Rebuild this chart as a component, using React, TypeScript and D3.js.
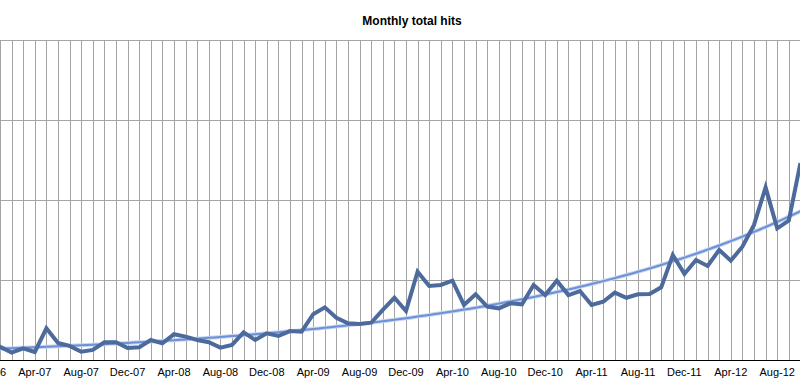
import * as d3 from "d3";
import { useEffect, useRef } from "react";

// months Dec-06 .. Oct-12
const months = d3.timeMonth.range(new Date(2006, 11, 1), new Date(2012, 10, 1));
const fmt = d3.timeFormat("%b-%y");

// total hits per month
const hits = [
  8800, 8300, 4600, 7300, 5000, 19800, 10600, 8800, 5200, 6300, 11100, 11100, 7500,
  7900, 12500, 10400, 16100, 14600, 12500, 11100, 7700, 9400, 17300, 12500, 16700,
  15000, 18100, 17700, 28600, 32900, 26400, 22900, 22500, 23300, 31300, 38900, 30600,
  55200, 46300, 46900, 49600, 34400, 41100, 33300, 32300, 35400, 34800, 46900, 40600,
  49600, 40600, 43100, 34400, 36400, 42100, 38900, 41100, 41300, 45400, 65600, 53800,
  62500, 58800, 68800, 62100, 70800, 84400, 107900, 82300, 87100, 123100,
];

const yTicks = [0, 50000, 100000, 150000, 200000];
const labelEvery = 4;

export default function App() {
  const svgRef = useRef<SVGSVGElement | null>(null);

  useEffect(() => {
    const width = 800;
    const height = 391;
    const svg = d3.select(svgRef.current);
    svg.selectAll("*").remove();

    const x = d3.scaleLinear().domain([0, hits.length - 1]).range([-11.6, 800.4]);
    const y = d3.scaleLinear().domain([0, 200000]).range([360, 40]);

    svg
      .append("text")
      .attr("x", 412)
      .attr("y", 25)
      .attr("text-anchor", "middle")
      .style("font", "bold 12px 'Liberation Sans', Arial, sans-serif")
      .text("Monthly total hits");

    const grid = svg.append("g").attr("stroke", "#a4a4a4").attr("stroke-width", 1);
    grid
      .selectAll("line.v")
      .data(hits.map((_, i) => i))
      .join("line")
      .attr("class", "v")
      .attr("x1", (i) => Math.round(x(i)) + 0.5)
      .attr("x2", (i) => Math.round(x(i)) + 0.5)
      .attr("y1", y(200000))
      .attr("y2", y(0));
    grid
      .selectAll("line.h")
      .data(yTicks.slice(1))
      .join("line")
      .attr("class", "h")
      .attr("x1", 0)
      .attr("x2", width)
      .attr("y1", (d) => Math.round(y(d)) + 0.5)
      .attr("y2", (d) => Math.round(y(d)) + 0.5);

    svg
      .append("line")
      .attr("x1", 0)
      .attr("x2", width)
      .attr("y1", y(0) + 0.5)
      .attr("y2", y(0) + 0.5)
      .attr("stroke", "#000");

    svg
      .append("g")
      .selectAll("text")
      .data(months.map((m, i) => ({ m, i })).filter((d) => d.i % labelEvery === 0))
      .join("text")
      .attr("x", (d) => x(d.i))
      .attr("y", 376)
      .attr("text-anchor", "middle")
      .style("font", "11px 'Liberation Sans', Arial, sans-serif")
      .text((d) => fmt(d.m));

    // exponential trendline, least squares on ln(hits)
    const n = hits.length;
    const xs = hits.map((_, i) => i);
    const ls = hits.map((v) => Math.log(v));
    const mx = d3.mean(xs)!;
    const ml = d3.mean(ls)!;
    const b =
      d3.sum(xs, (xi, k) => (xi - mx) * (ls[k] - ml)) / d3.sum(xs, (xi) => (xi - mx) ** 2);
    const a = Math.exp(ml - b * mx);
    const trendPts = d3.range(0, n - 1 + 0.01, 0.5);
    const trend = d3
      .line<number>()
      .x((t) => x(t))
      .y((t) => y(a * Math.exp(b * t)));

    svg
      .append("path")
      .attr("d", trend(trendPts))
      .attr("fill", "none")
      .attr("stroke", "#c7d6f2")
      .attr("stroke-width", 4);
    svg
      .append("path")
      .attr("d", trend(trendPts))
      .attr("fill", "none")
      .attr("stroke", "#6d90d6")
      .attr("stroke-width", 2);

    const line = d3
      .line<number>()
      .x((_, i) => x(i))
      .y((d) => y(d));

    svg
      .append("path")
      .attr("d", line(hits))
      .attr("fill", "none")
      .attr("stroke", "#4c6a9b")
      .attr("stroke-width", 4)
      .attr("stroke-linejoin", "miter");
  }, []);

  return (
    <svg
      ref={svgRef}
      width={800}
      height={391}
      style={{ position: "absolute", left: 0, top: 0, background: "#fff" }}
    />
  );
}
